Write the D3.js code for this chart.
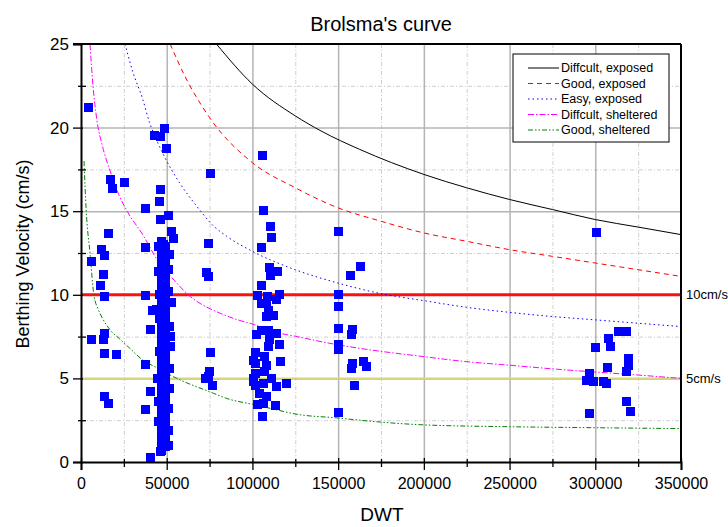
<!DOCTYPE html>
<html>
<head>
<meta charset="utf-8">
<script src="https://cdn.jsdelivr.net/npm/d3@7"></script>
<style>
  body { margin: 0; background: #fff; }
  svg { font-family: "Liberation Sans", Arial, sans-serif; }
  .axis path, .axis line { stroke: #000; }
  .grid path { display: none; }
</style>
</head>
<body>
<svg id="chart" width="728" height="527"></svg>
<script>
// ---- data ----
var xMajor = [0, 50000, 100000, 150000, 200000, 250000, 300000, 350000];
var xMinor = [25000, 75000, 125000, 175000, 225000, 275000, 325000];
var yMajor = [0, 5, 10, 15, 20, 25];
var yMinor = [2.5, 7.5, 12.5, 17.5, 22.5];

var curveNames = ["Diffcult, exposed", "Good, exposed", "Easy, exposed", "Diffcult, sheltered", "Good, sheltered"];

var difficultExposed = [[79000,25],[100000,22.6],[125000,20.7],[140000,19.8],[162500,18.7],[200000,17.2],
  [225000,16.4],[250000,15.7],[275000,15.1],[300000,14.5],[325000,14.05],[350000,13.6]];
var goodExposed = [[52000,25],[60000,23.2],[75000,20.6],[100000,17.9],[125000,16.4],[150000,15.2],[175000,14.4],
  [200000,13.7],[225000,13.2],[250000,12.7],[275000,12.3],[300000,11.9],[325000,11.5],[350000,11.1]];
var easyExposed = [[25700,25],[30000,23.4],[36000,21.7],[40000,20.3],[45000,19.05],[50000,18.0],[57500,16.7],
  [67500,15.3],[77500,14.1],[85000,13.5],[100000,12.6],[125000,11.5],[150000,10.7],[175000,10.07],[200000,9.65],
  [225000,9.25],[250000,8.95],[275000,8.7],[300000,8.5],[325000,8.3],[350000,8.1]];
var difficultSheltered = [[5250,25],[7000,22.5],[9200,20.5],[12500,18.9],[17000,17.4],[22000,16.0],[27500,14.9],
  [36000,13.6],[45000,12.0],[55000,10.8],[62500,10.0],[70000,9.45],[80000,8.95],[90000,8.55],[100000,8.25],
  [116000,7.7],[125000,7.52],[145000,7.1],[162500,6.8],[200000,6.3],[225000,6.0],[250000,5.79],[275000,5.57],
  [300000,5.38],[325000,5.2],[350000,5.0]];
var goodSheltered = [[1750,18.0],[3000,15.1],[5250,12.5],[7500,10.0],[10000,9.15],[12500,8.6],[17000,7.9],
  [22500,7.37],[28500,6.8],[36000,6.1],[45000,5.6],[54000,5.1],[62500,4.7],[70000,4.4],[77500,4.1],[85000,3.8],
  [100000,3.45],[112500,3.16],[125000,2.87],[150000,2.63],[162500,2.5],[200000,2.22],[250000,2.11],[300000,2.05],
  [350000,2.0]];

var limitLines = [10, 5];
var limitLabels = ["10cm/s", "5cm/s"];

// ships, [DWT, berthing velocity cm/s]
var smallShips = [[4100,21.2],[6240,11.98],[12070,12.72],[13600,12.38],[13010,11.24],[11490,10.53],[13600,9.89],
  [15930,13.68],[17320,16.87],[18260,16.37],[25660,16.7],[6240,7.34],[13600,7.7],[13010,7.3],[13600,6.5],
  [20420,6.4],[13600,3.91],[15930,3.47],[37910,15.17],[37910,12.84],[37910,9.93],[41820,9.05],[40660,7.93],
  [37910,5.86],[40830,4.2],[37910,3.15],[40660,0.28]];
var ships50k = [[48600,19.96],[42760,19.5],[46660,19.46],[49990,18.76],[46660,16.27],[46080,15.57],[50920,14.77],
  [46660,14.51],[52500,13.78],[53840,13.38],[46660,0.62],[45500,10.0],[45800,6.6],[45200,2.4],[51200,11.5],
  [51500,8.1],[51800,5.6],[51000,3.2],[50800,1.0],[45600,8.6],[52200,6.9],[52900,9.55],[44300,9.1],[51600,12.4],
  [45400,12.9],[51300,10.2],[44900,5.0],[51700,4.4],[45300,3.6],[51200,1.9],[52100,7.5],[45100,11.4],
  [46900,0.7],[46900,1.2],[46900,1.7],[46900,2.2],[46900,2.7],[46900,3.2],[46900,3.7],[46900,4.2],[46900,4.7],
  [46900,5.2],[46900,5.7],[46900,6.2],[46900,6.7],[46900,7.2],[46900,7.7],[46900,8.2],[46900,8.7],[46900,9.2],
  [46900,9.7],[46900,10.2],[46900,10.7],[46900,11.2],[46900,11.7],[46900,12.2],[46900,12.7],[46900,13.2],
  [48100,1.0],[48100,2.0],[48100,3.0],[48100,4.0],[48100,5.0],[48100,6.0],[48100,7.0],[48100,8.0],[48100,9.0],
  [48100,10.0],[48100,11.0],[48100,12.0],[48100,13.0],
  [49300,0.9],[49300,1.4],[49300,1.9],[49300,2.4],[49300,2.9],[49300,3.4],[49300,3.9],[49300,4.4],[49300,4.9],
  [49300,5.4],[49300,5.9],[49300,6.4],[49300,6.9],[49300,7.4],[49300,7.9],[49300,8.4],[49300,8.9],[49300,9.4],
  [49300,9.9],[49300,10.4],[49300,10.9],[49300,11.4],[49300,11.9],[49300,12.4],[49300,12.9]];
var ships75k = [[75250,17.27],[74270,13.04],[73300,11.32],[74660,11.08],[75250,6.54],[74850,5.4],[74270,5.1],
  [76810,4.57],[72900,5.0]];
var ships100k = [[106000,18.36],[106300,15.07],[110250,14.07],[111230,13.44],[105400,12.82],[109840,11.62],
  [110640,11.18],[114700,11.38],[105400,10.53],[102840,9.95],[115670,9.99],[108300,9.49],[114200,9.69],
  [109250,9.09],[111230,8.79],[112200,8.79],[105400,7.89],[109250,7.89],[114200,7.7],[102500,7.6],[115670,7.0],
  [109250,6.9],[101500,6.54],[107300,6.3],[101500,5.9],[108300,5.8],[116500,6.0],[101500,5.3],[107300,5.4],
  [111230,5.0],[114200,4.5],[101500,4.6],[106300,4.7],[119600,4.7],[104400,4.1],[108300,3.9],[102840,3.41],
  [106300,3.47],[113200,3.35],[106000,2.75],[100900,6.1],[100900,5.0],[100900,4.8],[109840,7.3],[108300,8.69],
  [105400,9.49],[108700,9.89]];
var ships150k = [[150100,13.78],[150100,10.03],[150100,9.29],[150100,8.0],[150100,7.0],[150100,6.7],[150100,2.95],
  [157300,11.14],[163000,11.68],[158500,7.9],[157900,7.6],[158200,5.9],[157900,5.6],[159800,4.55],[164500,6.0],
  [166800,5.7]];
var ships300k = [[300800,13.72],[316300,7.8],[318300,7.8],[313400,7.8],[307600,7.4],[308600,6.9],[300400,6.84],
  [319300,6.2],[319300,5.8],[318300,5.4],[307200,5.64],[296900,5.3],[296900,5.0],[298800,4.8],[304700,4.84],
  [306600,4.7],[295000,4.9],[318300,3.6],[320600,3.0],[296900,2.9]];

// ---- drawing ----
var svg = d3.select("#chart");
var margin = { top: 44, left: 81 },
    width = 600,
    height = 418;

var x = d3.scaleLinear().domain([0, 350000]).range([0, width]);
var y = d3.scaleLinear().domain([0, 25]).range([height, 0]);

var g = svg.append("g")
    .attr("transform", "translate(" + margin.left + "," + margin.top + ")");

svg.append("defs").append("clipPath").attr("id", "plotclip")
    .append("rect").attr("width", width).attr("height", height);

// grid
g.append("g").attr("class", "grid")
    .attr("transform", "translate(0," + height + ")")
    .call(d3.axisBottom(x).tickValues(xMinor).tickSize(-height).tickFormat(""))
    .selectAll("line").attr("stroke", "#cfcfcf").attr("stroke-dasharray", "4,2,1,2");
g.append("g").attr("class", "grid")
    .call(d3.axisLeft(y).tickValues(yMinor).tickSize(-width).tickFormat(""))
    .selectAll("line").attr("stroke", "#cfcfcf").attr("stroke-dasharray", "4,2,1,2");
g.append("g").attr("class", "grid")
    .attr("transform", "translate(0," + height + ")")
    .call(d3.axisBottom(x).tickValues(xMajor.slice(1, -1)).tickSize(-height).tickFormat(""))
    .selectAll("line").attr("stroke", "#b4b4b4").attr("stroke-width", 1.5);
g.append("g").attr("class", "grid")
    .call(d3.axisLeft(y).tickValues(yMajor.slice(1, -1)).tickSize(-width).tickFormat(""))
    .selectAll("line").attr("stroke", "#b4b4b4").attr("stroke-width", 1.5);

// reference lines
var refColors = ["#ff1010", "#d6d67a"];
var refWidths = [3, 2];
limitLines.forEach(function (v, i) {
    g.append("line")
        .attr("x1", 0).attr("x2", width)
        .attr("y1", y(v)).attr("y2", y(v))
        .attr("stroke", refColors[i])
        .attr("stroke-width", refWidths[i]);
    svg.append("text")
        .attr("x", margin.left + width + 5)
        .attr("y", margin.top + y(v))
        .attr("dy", "0.35em")
        .attr("font-size", 13)
        .text(limitLabels[i]);
});

// Brolsma curves
var curves = [difficultExposed, goodExposed, easyExposed, difficultSheltered, goodSheltered];
var curveColors = ["#000000", "#ff0000", "#0000ff", "#ff00ff", "#008000"];
var curveDash = ["", "5,4", "1.5,3", "6,2,1.5,2", "5,2,1.5,2,1.5,2"];

var line = d3.line()
    .x(function (d) { return x(d[0]); })
    .y(function (d) { return y(d[1]); })
    .curve(d3.curveMonotoneX);

var curveG = g.append("g").attr("clip-path", "url(#plotclip)");
curves.forEach(function (c, i) {
    curveG.append("path")
        .datum(c)
        .attr("d", line)
        .attr("fill", "none")
        .attr("stroke", curveColors[i])
        .attr("stroke-width", 1)
        .attr("stroke-dasharray", curveDash[i]);
});

// ships
var ships = smallShips.concat(ships50k, ships75k, ships100k, ships150k, ships300k);
var sq = 9;
g.append("g")
    .attr("shape-rendering", "crispEdges")
    .selectAll("rect")
    .data(ships)
    .enter()
    .append("rect")
    .attr("x", function (d) { return x(d[0]) - sq / 2; })
    .attr("y", function (d) { return y(d[1]) - sq / 2; })
    .attr("width", sq)
    .attr("height", sq)
    .attr("fill", "#0000ff");

// axes
var xAx = g.append("g").attr("class", "axis")
    .attr("transform", "translate(0," + height + ")")
    .call(d3.axisBottom(x).tickValues(xMajor).tickSize(8).tickPadding(8).tickFormat(d3.format("d")));
xAx.selectAll("text").attr("font-size", 16).attr("fill", "#000");
xAx.select(".domain").attr("stroke-width", 2);
xAx.selectAll(".tick line").attr("y1", -4).attr("stroke-width", 1.3);
g.append("g").attr("class", "axis")
    .attr("transform", "translate(0," + height + ")")
    .call(d3.axisBottom(x).tickValues(xMinor).tickSize(5).tickFormat(""))
    .call(function (a) { a.select(".domain").remove(); })
    .selectAll(".tick line").attr("y1", -3).attr("stroke-width", 1.3);

var yAx = g.append("g").attr("class", "axis")
    .call(d3.axisLeft(y).tickValues(yMajor).tickSize(8).tickPadding(4));
yAx.selectAll("text").attr("font-size", 17).attr("fill", "#000");
yAx.select(".domain").attr("stroke-width", 2);
yAx.selectAll(".tick line").attr("x1", 2).attr("stroke-width", 1.3);
g.append("g").attr("class", "axis")
    .call(d3.axisLeft(y).tickValues(yMinor).tickSize(3).tickFormat(""))
    .call(function (a) { a.select(".domain").remove(); })
    .selectAll(".tick line").attr("x1", 5).attr("stroke-width", 1.3);

// frame top and right
g.append("line").attr("x1", -8).attr("x2", width).attr("y1", 0).attr("y2", 0)
    .attr("stroke", "#000").attr("stroke-width", 2);
g.append("line").attr("x1", width).attr("x2", width).attr("y1", 0).attr("y2", height)
    .attr("stroke", "#000").attr("stroke-width", 2);

// legend
var legend = svg.append("g").attr("transform", "translate(513,54)");
legend.append("rect")
    .attr("width", 156).attr("height", 88)
    .attr("fill", "#fff").attr("stroke", "#000").attr("stroke-width", 1);
var items = legend.selectAll(".legend")
    .data(curveNames)
    .enter().append("g")
    .attr("class", "legend")
    .attr("transform", function (d, i) { return "translate(0," + (14 + i * 15.5) + ")"; });
items.append("line")
    .attr("x1", 15).attr("x2", 46)
    .attr("stroke", function (d, i) { return curveColors[i]; })
    .attr("stroke-dasharray", function (d, i) { return curveDash[i]; });
items.append("text")
    .attr("x", 48)
    .attr("dy", "0.35em")
    .attr("font-size", 12.5)
    .text(function (d) { return d; });

// titles
svg.append("text")
    .attr("x", 381).attr("y", 31)
    .attr("text-anchor", "middle")
    .attr("font-size", 20)
    .text("Brolsma's curve");
svg.append("text")
    .attr("x", 382).attr("y", 521)
    .attr("text-anchor", "middle")
    .attr("font-size", 19)
    .text("DWT");
svg.append("text")
    .attr("transform", "translate(29,254) rotate(-90)")
    .attr("text-anchor", "middle")
    .attr("font-size", 18)
    .text("Berthing Velocity (cm/s)");
</script>
</body>
</html>
